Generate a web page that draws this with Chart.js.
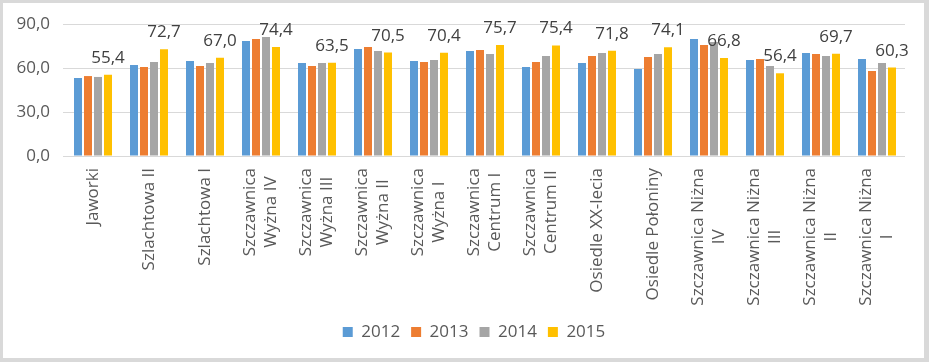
<!DOCTYPE html>
<html><head><meta charset="utf-8">
<script src="https://cdn.jsdelivr.net/npm/chart.js@4.4.0/dist/chart.umd.min.js"></script>
<style>
html,body{margin:0;padding:0;background:#fff;}
#wrap{position:relative;width:929px;height:362px;}
canvas{display:block;}
#frame{position:absolute;left:0;top:0;width:929px;height:362px;box-sizing:border-box;border-style:solid;border-color:#d9d9d9;border-width:3px 5px 4px 3px;pointer-events:none;}
</style></head><body>
<div id="wrap"><canvas id="c" width="929" height="362"></canvas><div id="frame"></div></div>
<script>
const categories = [["Jaworki"],["Szlachtowa II"],["Szlachtowa I"],["Szczawnica","Wyżna IV"],["Szczawnica","Wyżna III"],["Szczawnica","Wyżna II"],["Szczawnica","Wyżna I"],["Szczawnica","Centrum I"],["Szczawnica","Centrum II"],["Osiedle XX-lecia"],["Osiedle Połoniny"],["Szczawnica Niżna","IV"],["Szczawnica Niżna","III"],["Szczawnica Niżna","II"],["Szczawnica Niżna","I"]];
const years = ["2012","2013","2014","2015"];
const v2012 = [53.2,62.0,64.8,78.4,63.4,73.0,64.8,71.6,60.7,63.4,59.3,79.8,65.5,70.2,66.1];
const v2013 = [54.5,60.7,61.4,79.8,61.4,74.3,64.1,72.3,64.1,68.2,67.5,75.7,66.1,69.5,58.0];
const v2014 = [53.9,64.1,63.4,81.1,63.4,71.6,65.5,69.5,68.2,70.2,69.5,77.7,61.4,68.2,63.4];
const v2015 = [55.4,72.7,67.0,74.4,63.5,70.5,70.4,75.7,75.4,71.8,74.1,66.8,56.4,69.7,60.3];
const yTicks = [0,30,60,90];
const colors = ["#5b9bd5","#ed7d31","#a5a5a5","#ffc000"];
const FONT = "'Open Sans', sans-serif";
const fmt = v => v.toFixed(1).replace('.', ',');

const valueLabels = {
  id: 'valueLabels',
  afterDatasetsDraw(chart) {
    const ctx = chart.ctx;
    const meta = chart.getDatasetMeta(3);
    ctx.save();
    ctx.font = "17px " + FONT;
    ctx.fillStyle = "#404040";
    ctx.textAlign = "center";
    ctx.textBaseline = "alphabetic";
    meta.data.forEach((bar, i) => {
      ctx.fillText(fmt(v2015[i]), bar.x, bar.y - 12);
    });
    ctx.restore();
  }
};

const xLabels = {
  id: 'xLabels',
  afterDraw(chart) {
    const ctx = chart.ctx;
    const xs = chart.scales.x;
    const top = 168;
    ctx.save();
    ctx.font = "17px " + FONT;
    ctx.fillStyle = "#595959";
    ctx.textAlign = "center";
    ctx.textBaseline = "middle";
    categories.forEach((lines, i) => {
      const x = xs.getPixelForValue(i);
      const maxW = Math.max(...lines.map(l => ctx.measureText(l).width));
      ctx.save();
      ctx.translate(x, top);
      ctx.rotate(-Math.PI / 2);
      lines.forEach((l, j) => {
        ctx.fillText(l, -maxW / 2, (j - (lines.length - 1) / 2) * 21);
      });
      ctx.restore();
    });
    ctx.restore();
  }
};

const legendShift = {
  id: 'legendShift',
  afterLayout(chart) {
    if (chart.legend) { chart.legend.left = 43; chart.legend.right = 905; }
  }
};

const series = [v2012, v2013, v2014, v2015];
new Chart(document.getElementById('c'), {
  type: 'bar',
  data: {
    labels: categories.map(c => c.join(' ')),
    datasets: years.map((y, k) => ({
      label: y,
      data: series[k],
      backgroundColor: colors[k],
      borderWidth: 0,
      categoryPercentage: 0.714,
      barPercentage: 0.8
    }))
  },
  options: {
    responsive: false,
    devicePixelRatio: 1,
    animation: false,
    layout: { padding: { top: 24, right: 24, left: 0, bottom: 11.5 } },
    plugins: {
      tooltip: { enabled: false },
      legend: {
        position: 'bottom',
        labels: { boxWidth: 10, boxHeight: 10, padding: 11, color: '#595959', font: { size: 17, family: FONT } }
      }
    },
    scales: {
      x: {
        ticks: { display: false },
        grid: { display: false },
        border: { display: false },
        afterFit(s) { s.height = 156.5; }
      },
      y: {
        min: 0, max: 90,
        afterBuildTicks(s) { s.ticks = yTicks.map(v => ({ value: v })); },
        afterFit(s) { s.width = 65; },
        ticks: { padding: 13, color: '#595959', font: { size: 17, family: FONT }, callback: v => fmt(v) },
        grid: { color: '#d9d9d9', drawTicks: true, tickLength: 2, tickColor: '#d9d9d9' },
        border: { display: false }
      }
    }
  },
  plugins: [valueLabels, xLabels, legendShift]
});
</script>
</body></html>
